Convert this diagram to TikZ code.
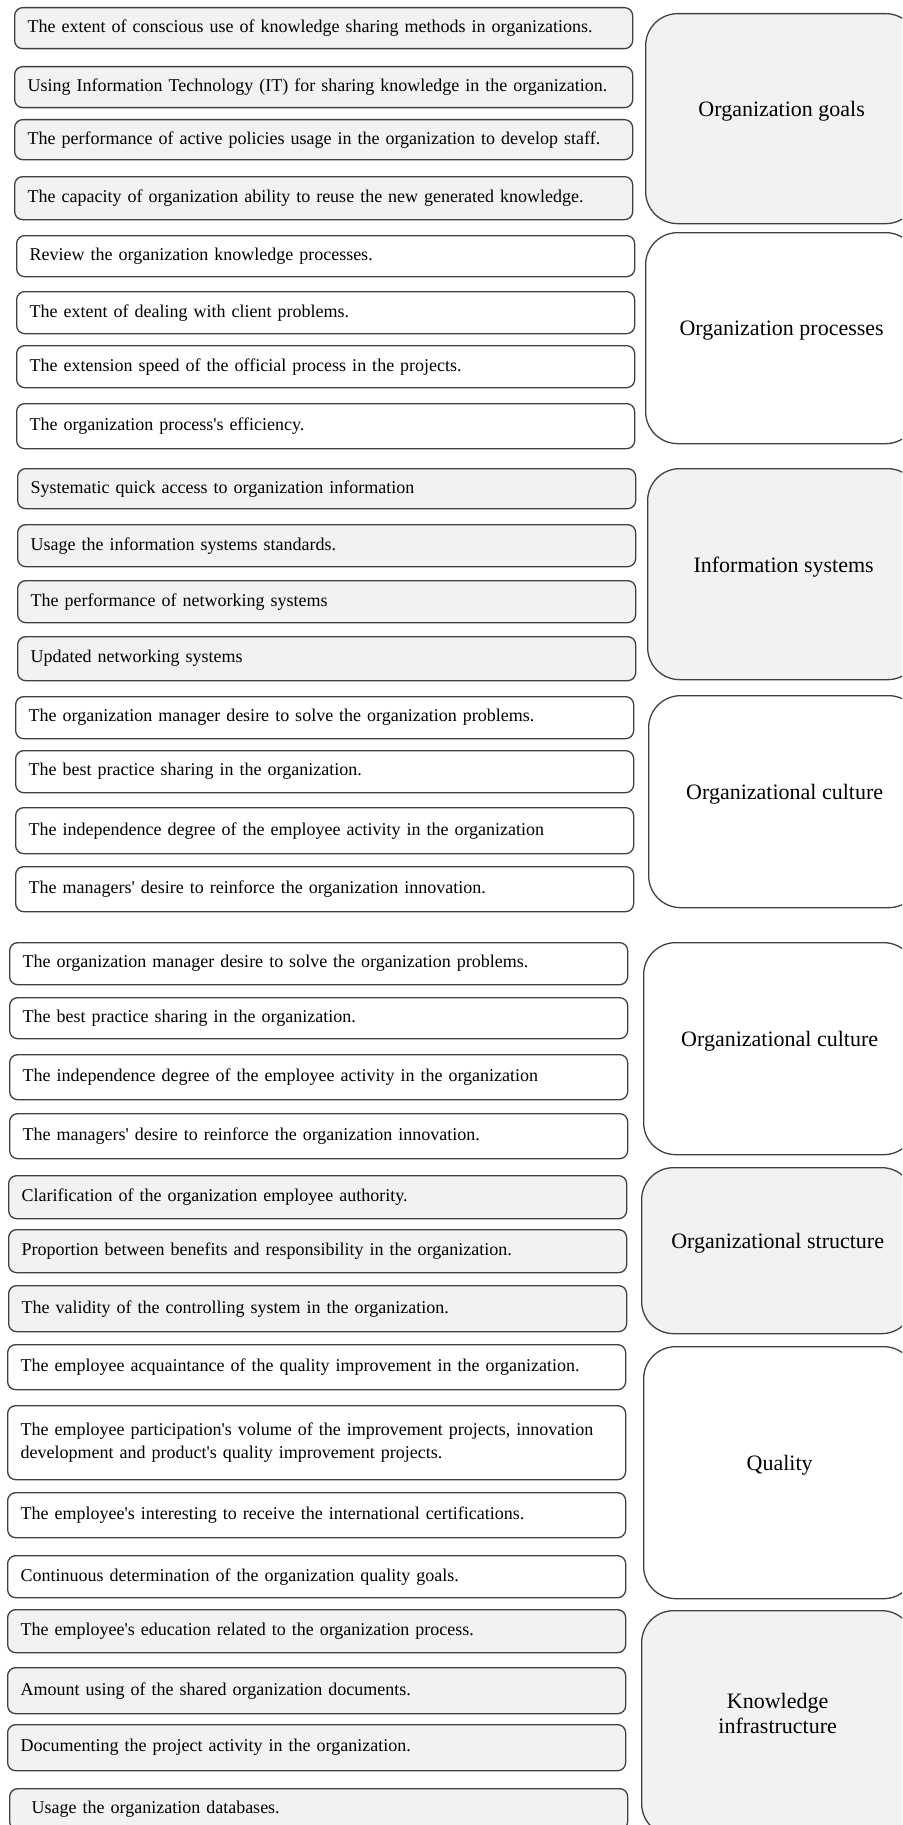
\documentclass[tikz,border=0pt]{standalone}
\usepackage{fontspec}
\setmainfont{Liberation Serif}
\usepackage{xcolor}

\definecolor{boxfill}{HTML}{F2F2F2}
\definecolor{edge}{HTML}{404040}
\newcommand{\itemfont}{\fontsize{18}{23}\selectfont\hyphenpenalty=10000 }
\newcommand{\groupfont}{\fontsize{22}{25}\selectfont}
\newcommand{\apos}{\textquotesingle}

\begin{document}
\begin{tikzpicture}[x=1pt,y=1pt,
	item/.style={draw=edge, line width=1.3pt, rounded corners=8pt, anchor=north west,
		minimum height=#1, text width=592pt, inner xsep=13pt, inner ysep=0pt,
		align=left, font=\itemfont},
	item/.default=42pt,
	group/.style={draw=edge, line width=1.3pt, rounded corners=32pt, anchor=north west,
		minimum height=#1, minimum width=272pt, text depth=19pt, align=center, font=\groupfont},
	grey/.style={fill=boxfill}]
	\useasboundingbox (0,0) rectangle (902,-1825);
	\clip (0,0) rectangle (902,-1825);

	% Organization goals
	\node[item=41pt, grey] (goal1) at (14,-7) {The extent of conscious use of knowledge sharing methods in organizations.};
	\node[item=41pt, grey] (goal2) at (14,-66) {Using Information Technology (IT) for sharing knowledge in the organization.};
	\node[item=40pt, grey] (goal3) at (14,-119) {The performance of active policies usage in the organization to develop staff.};
	\node[item=43pt, grey] (goal4) at (14,-176) {The capacity of organization ability to reuse the new generated knowledge.};
	\node[group=210pt, grey] (goals) at (645,-13) {Organization goals};

	% Organization processes
	\node[item=41pt] (proc1) at (16,-235) {Review the organization knowledge processes.};
	\node[item=42pt] (proc2) at (16,-291) {The extent of dealing with client problems.};
	\node[item=42pt] (proc3) at (16,-345) {The extension speed of the official process in the projects.};
	\node[item=45pt] (proc4) at (16,-403) {The organization process\apos s efficiency.};
	\node[group=211pt] (procs) at (645,-232) {Organization processes};

	% Information systems
	\node[item=40pt, grey] (info1) at (17,-468) {Systematic quick access to organization information};
	\node[item=42pt, grey] (info2) at (17,-524) {Usage the information systems standards.};
	\node[item=42pt, grey] (info3) at (17,-580) {The performance of networking systems};
	\node[item=44pt, grey] (info4) at (17,-636) {Updated networking systems};
	\node[group=211pt, grey] (infosys) at (647,-468) {Information systems};

	% Organizational culture
	\node[item=42pt] (cultA1) at (15,-696) {The organization manager desire to solve the organization problems.};
	\node[item=42pt] (cultA2) at (15,-750) {The best practice sharing in the organization.};
	\node[item=46pt] (cultA3) at (15,-807) {The independence degree of the employee activity in the organization};
	\node[item=45pt] (cultA4) at (15,-866) {The managers\apos{} desire to reinforce the organization innovation.};
	\node[group=212pt] (cultureA) at (648,-695) {Organizational culture};

	% Organizational culture (again)
	\node[item=42pt] (cultB1) at (9,-942) {The organization manager desire to solve the organization problems.};
	\node[item=41pt] (cultB2) at (9,-997) {The best practice sharing in the organization.};
	\node[item=45pt] (cultB3) at (9,-1054) {The independence degree of the employee activity in the organization};
	\node[item=45pt] (cultB4) at (9,-1113) {The managers\apos{} desire to reinforce the organization innovation.};
	\node[group=212pt] (cultureB) at (643,-942) {Organizational culture};

	% Organizational structure
	\node[item=43pt, grey] (struc1) at (8,-1175) {Clarification of the organization employee authority.};
	\node[item=43pt, grey] (struc2) at (8,-1229) {Proportion between benefits and responsibility in the organization.};
	\node[item=46pt, grey] (struc3) at (8,-1285) {The validity of the controlling system in the organization.};
	\node[group=166pt, grey] (structure) at (641,-1167) {Organizational structure};

	% Quality
	\node[item=45pt] (qual1) at (7,-1344) {The employee acquaintance of the quality improvement in the organization.};
	\node[item=74pt] (qual2) at (7,-1405) {The employee participation\apos s volume of the improvement projects, innovation\\development and product\apos s quality improvement projects.};
	\node[item=45pt] (qual3) at (7,-1492) {The employee\apos s interesting to receive the international certifications.};
	\node[item=42pt] (qual4) at (7,-1555) {Continuous determination of the organization quality goals.};
	\node[group=252pt] (quality) at (643,-1346) {Quality};

	% Knowledge infrastructure
	\node[item=43pt, grey] (infra1) at (7,-1609) {The employee\apos s education related to the organization process.};
	\node[item=46pt, grey] (infra2) at (7,-1667) {Amount using of the shared organization documents.};
	\node[item=46pt, grey] (infra3) at (7,-1724) {Documenting the project activity in the organization.};
	\node[item=41pt, grey] (infra4) at (9,-1788) {\hspace*{9pt}Usage the organization databases.};
	\node[group=225pt, grey] (kinfra) at (641,-1610) {Knowledge\\infrastructure};
\end{tikzpicture}
\end{document}
